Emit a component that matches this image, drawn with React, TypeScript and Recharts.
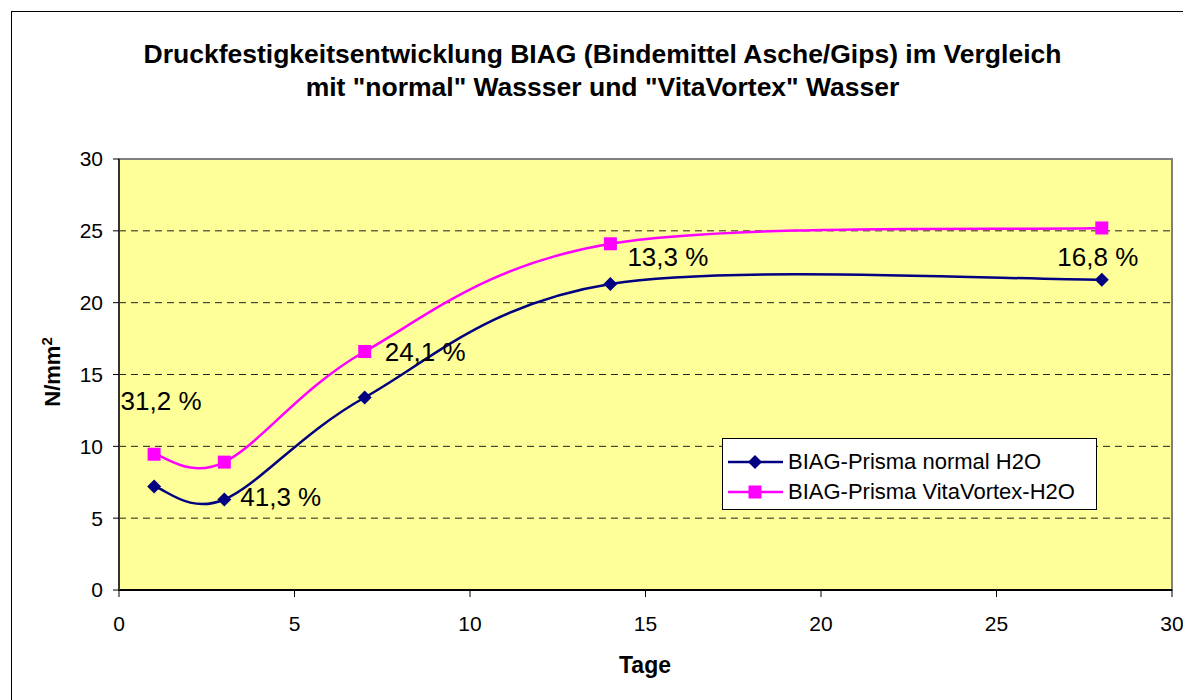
import React from 'react';
import {
  LineChart, Line, XAxis, YAxis, CartesianGrid, Legend, ReferenceArea
} from 'recharts';

const days = [1, 3, 7, 14, 28];
const normalH2O = [7.2, 6.3, 13.4, 21.3, 21.6];
const vitaH2O = [9.45, 8.9, 16.6, 24.1, 25.2];
const gainLabels = ['31,2 %', '41,3 %', '24,1 %', '13,3 %', '16,8 %'];
const xTicks = [0, 5, 10, 15, 20, 25, 30];
const yTicks = [0, 5, 10, 15, 20, 25, 30];

// label placement relative to the VitaVortex point (dx, dy, anchor)
const labelPos = [
  { dx: 7, dy: -53, anchor: 'middle' },
  { dx: 16, dy: 35, anchor: 'start' },
  { dx: 20, dy: 0, anchor: 'start' },
  { dx: 17, dy: 13, anchor: 'start' },
  { dx: -4, dy: 29, anchor: 'middle' },
];

const NAVY = '#000080';
const MAGENTA = '#FF00FF';
const FONT = '"Liberation Sans", Arial, sans-serif';

const data = days.map((d, i) => ({ day: d, normal: normalH2O[i], vita: vitaH2O[i] }));

// smoothed line like Excel: cubic bezier with catmull-rom style control points
const excelCurve = (context: any) => {
  let pts: number[][] = [];
  return {
    areaStart() {},
    areaEnd() {},
    lineStart() { pts = []; },
    point(x: number, y: number) { pts.push([+x, +y]); },
    lineEnd() {
      const n = pts.length;
      if (!n) return;
      context.moveTo(pts[0][0], pts[0][1]);
      for (let i = 0; i < n - 1; i++) {
        const p0 = pts[Math.max(i - 1, 0)];
        const p1 = pts[i];
        const p2 = pts[i + 1];
        const p3 = pts[Math.min(i + 2, n - 1)];
        context.bezierCurveTo(
          p1[0] + (p2[0] - p0[0]) / 6, p1[1] + (p2[1] - p0[1]) / 6,
          p2[0] - (p3[0] - p1[0]) / 6, p2[1] - (p3[1] - p1[1]) / 6,
          p2[0], p2[1]
        );
      }
    },
  };
};

const DiamondDot = (props: any) => {
  const { cx, cy } = props;
  if (cx == null || cy == null) return null;
  return <path key={`d-${props.index}`} d={`M${cx},${cy - 7}L${cx + 7},${cy}L${cx},${cy + 7}L${cx - 7},${cy}Z`} fill={NAVY} />;
};

const SquareDot = (props: any) => {
  const { cx, cy, payload } = props;
  if (cx == null || cy == null) return null;
  const i = days.indexOf(payload?.day);
  const pos = labelPos[i];
  return (
    <g key={`s-${i}`}>
      <rect x={cx - 6.5} y={cy - 6.5} width={13} height={13} fill={MAGENTA} />
      {pos && (
        <text x={cx + pos.dx} y={cy + pos.dy} dy="0.35em" textAnchor={pos.anchor as any}
          fontFamily={FONT} fontSize={26} fill="#000">
          {gainLabels[i]}
        </text>
      )}
    </g>
  );
};

const LegendBox = () => (
  <div style={{
    width: 373, height: 70, background: '#fff', border: '1px solid #000',
    fontFamily: FONT, fontSize: 22, color: '#000', boxSizing: 'content-box'
  }}>
    {[
      { name: 'BIAG-Prisma normal H2O', color: NAVY, shape: 'diamond' },
      { name: 'BIAG-Prisma VitaVortex-H2O', color: MAGENTA, shape: 'square' },
    ].map((it, i) => (
      <div key={it.name} style={{ position: 'absolute', left: 5, top: 10 + i * 30, height: 28, display: 'flex', alignItems: 'center', whiteSpace: 'nowrap' }}>
        <svg width={58} height={20} style={{ marginRight: 3 }}>
          <line x1={1} y1={10} x2={56} y2={10} stroke={it.color} strokeWidth={2.5} />
          {it.shape === 'diamond'
            ? <path d="M28,3L35,10L28,17L21,10Z" fill={it.color} />
            : <rect x={21.5} y={3.5} width={13} height={13} fill={it.color} />}
        </svg>
        <span>{it.name}</span>
      </div>
    ))}
  </div>
);

export default function App() {
  return (
    <div style={{ position: 'absolute', left: 0, top: 0, width: 1183, height: 700, background: '#fff', overflow: 'hidden' }}>
      <div style={{ position: 'absolute', left: 11, top: 11, width: 1200, height: 720, border: '1.5px solid #000' }} />
      <div style={{
        position: 'absolute', left: 0, top: 38, width: 1205, textAlign: 'center',
        fontFamily: FONT, fontWeight: 'bold', fontSize: 26.5, lineHeight: '33px', color: '#000'
      }}>
        Druckfestigkeitsentwicklung BIAG (Bindemittel Asche/Gips) im Vergleich<br />
        mit "normal" Wassser und "VitaVortex" Wasser
      </div>
      <div style={{ position: 'absolute', left: 0, top: 0 }}>
        <LineChart width={1183} height={700} data={data}
          margin={{ top: 159, right: 11, bottom: 80, left: 69 }}>
          <CartesianGrid vertical={false} horizontalValues={[5, 10, 15, 20, 25]}
            stroke="#222" strokeDasharray="7 5" fill="#FFFF99" fillOpacity={1} />
          <ReferenceArea x1={0} x2={30} y1={0} y2={30} fill="none" stroke="#808080" strokeWidth={2} ifOverflow="visible" />
          <XAxis type="number" dataKey="day" domain={[0, 30]} ticks={xTicks} interval={0}
            height={30} tickSize={7} tickMargin={19} allowDataOverflow
            axisLine={{ stroke: '#000', strokeWidth: 2 }} tickLine={{ stroke: '#000' }}
            tick={{ fill: '#000', fontSize: 21, fontFamily: FONT }} />
          <YAxis type="number" domain={[0, 30]} ticks={yTicks} interval={0}
            width={50} tickSize={6} tickMargin={10} allowDataOverflow
            axisLine={{ stroke: '#333', strokeWidth: 2 }} tickLine={{ stroke: '#000' }}
            tick={{ fill: '#000', fontSize: 21, fontFamily: FONT }} />
          <Line dataKey="normal" name="BIAG-Prisma normal H2O" type={excelCurve as any}
            stroke={NAVY} strokeWidth={2.5} dot={DiamondDot} activeDot={false}
            isAnimationActive={false} />
          <Line dataKey="vita" name="BIAG-Prisma VitaVortex-H2O" type={excelCurve as any}
            stroke={MAGENTA} strokeWidth={2.5} dot={SquareDot} activeDot={false}
            isAnimationActive={false} />
          <Legend layout="horizontal" verticalAlign="middle" align="center"
            wrapperStyle={{ left: 722, top: 438, width: 375, height: 72 }}
            content={() => <LegendBox />} />
        </LineChart>
      </div>
      <div style={{
        position: 'absolute', left: 52, top: 372, transform: 'translate(-50%, -50%) rotate(-90deg)',
        fontFamily: FONT, fontWeight: 'bold', fontSize: 22, color: '#000', whiteSpace: 'nowrap'
      }}>
        N/mm<sup style={{ fontSize: 15 }}>2</sup>
      </div>
      <div style={{
        position: 'absolute', left: 545, width: 200, top: 652, textAlign: 'center',
        fontFamily: FONT, fontWeight: 'bold', fontSize: 23, color: '#000'
      }}>
        Tage
      </div>
    </div>
  );
}
